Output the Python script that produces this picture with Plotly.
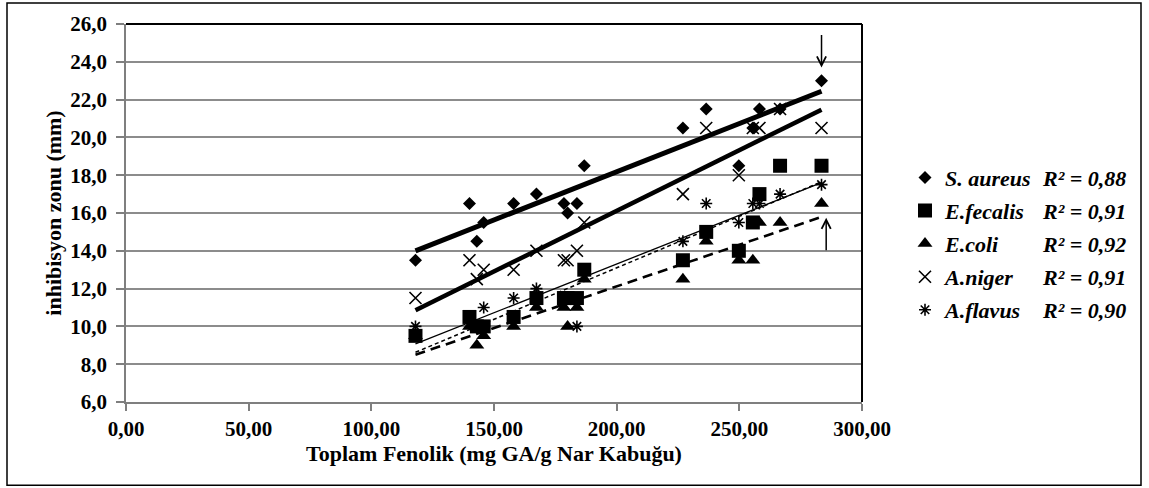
import numpy as np
import plotly.graph_objects as go

# ---------------- data ----------------
phenolic = [118.0, 140.0, 143.0, 145.8, 158.0, 167.3, 178.5, 180.0, 183.8, 186.8,
            227.0, 236.5, 249.8, 255.5, 258.2, 266.6, 283.5]
s_aureus = [13.5, 16.5, 14.5, 15.5, 16.5, 17.0, 16.5, 16.0, 16.5, 18.5,
            20.5, 21.5, 18.5, 20.5, 21.5, 21.5, 23.0]
e_fecalis = [9.5, 10.5, 10.0, 10.0, 10.5, 11.5, 11.5, 11.5, 11.5, 13.0,
             13.5, 15.0, 14.0, 15.5, 17.0, 18.5, 18.5]
e_coli = [9.5, 10.0, 9.0, 9.5, 10.0, 11.0, 11.0, 10.0, 11.0, 12.5,
          12.5, 14.5, 13.5, 13.5, 15.5, 15.5, 16.5]
a_niger = [11.5, 13.5, 12.5, 13.0, 13.0, 14.0, 13.5, 13.5, 14.0, 15.5,
           17.0, 20.5, 18.0, 20.5, 20.5, 21.5, 20.5]
a_flavus = [10.0, 10.5, 10.0, 11.0, 11.5, 12.0, 11.5, 11.5, 10.0, 13.0,
            14.5, 16.5, 15.5, 16.5, 16.5, 17.0, 17.5]

series_names = ["S. aureus", "E.fecalis", "E.coli", "A.niger", "A.flavus"]
r2_labels = ["R² = 0,88", "R² = 0,91", "R² = 0,92", "R² = 0,91", "R² = 0,90"]
x_ticks = [0, 50, 100, 150, 200, 250, 300]
y_ticks = [6, 8, 10, 12, 14, 16, 18, 20, 22, 24, 26]
x_title = "Toplam Fenolik (mg GA/g Nar Kabuğu)"
y_title = "inhibisyon zonu (mm)"

series_values = [s_aureus, e_fecalis, e_coli, a_niger, a_flavus]

# ---------------- styles ----------------
FONT = "Liberation Serif"
marker_styles = [
    dict(symbol="diamond", size=10, color="black"),
    dict(symbol="square", size=14, color="black"),
    dict(symbol="triangle-up", size=13, color="black"),
    dict(symbol="x-thin", size=12, color="black", line=dict(color="black", width=1.6)),
    dict(symbol="asterisk", size=10, color="black", line=dict(color="black", width=1.6)),
]
trend_styles = [
    dict(color="black", width=5, dash="solid"),
    dict(color="black", width=1.5, dash="4px,3px"),
    dict(color="black", width=2.6, dash="10px,6px"),
    dict(color="black", width=4.5, dash="solid"),
    dict(color="black", width=1.3, dash="solid"),
]

W, H = 1149, 488
L, R, T, B = 126, 862, 24, 401.7   # plot area in px


def px_to_paper_x(px):
    return (px - L) / (R - L)


def px_to_paper_y(py):
    return (B - py) / (B - T)


fig = go.Figure()

for i, (name, vals) in enumerate(zip(series_names, series_values)):
    fig.add_trace(go.Scatter(
        x=phenolic, y=vals, mode="markers", name=name,
        legendgroup=name, marker=marker_styles[i], showlegend=True,
    ))

for i, (name, vals) in enumerate(zip(series_names, series_values)):
    xs = np.array(phenolic)
    slope, icpt = np.polyfit(xs, np.array(vals), 1)
    xl = np.array([xs.min(), xs.max()])
    fig.add_trace(go.Scatter(
        x=xl, y=slope * xl + icpt, mode="lines", line=trend_styles[i],
        showlegend=False, legendgroup=name, hoverinfo="skip",
    ))

LEG_SIZE = 22
# R² labels next to legend rows
row0, row_step = 178.3, 33.1
annotations = []
for i, lab in enumerate(r2_labels):
    annotations.append(dict(
        text=lab, xref="paper", yref="paper",
        x=px_to_paper_x(1040), y=px_to_paper_y(row0 + i * row_step),
        xanchor="left", yanchor="middle", showarrow=False,
        font=dict(family=FONT, size=LEG_SIZE, color="black", weight="bold", style="italic"),
    ))

# arrows pointing at the highest S. aureus and E. coli values
annotations.append(dict(x=phenolic[-1], y=s_aureus[-1] + 0.7, xref="x", yref="y", text="",
                        showarrow=True, ax=0, ay=-34, arrowhead=5, arrowsize=1.2,
                        arrowwidth=1.5, arrowcolor="black"))
annotations.append(dict(x=phenolic[-1] + 1.9, y=e_coli[-1] - 0.75, xref="x", yref="y", text="",
                        showarrow=True, ax=0, ay=34, arrowhead=5, arrowsize=1.2,
                        arrowwidth=1.5, arrowcolor="black"))

shapes = [
    # top and right plot border
    dict(type="line", xref="paper", yref="paper", x0=0, x1=1, y0=1, y1=1,
         line=dict(color="black", width=2)),
    dict(type="line", xref="paper", yref="paper", x0=1, x1=1, y0=0, y1=1,
         line=dict(color="black", width=2)),
    # outer chart border
    dict(type="rect", xref="paper", yref="paper",
         x0=px_to_paper_x(7), x1=px_to_paper_x(1141),
         y0=px_to_paper_y(485), y1=px_to_paper_y(3),
         line=dict(color="black", width=1.5), fillcolor="rgba(0,0,0,0)"),
]

tick_font = dict(family=FONT, size=21, color="black", weight="bold")
title_font = dict(family=FONT, size=22, color="black", weight="bold")

fig.update_layout(
    width=W, height=H,
    margin=dict(l=L, r=W - R, t=T, b=H - B, pad=0),
    paper_bgcolor="white", plot_bgcolor="white",
    separators=",.",
    font=dict(family=FONT, color="black"),
    showlegend=True,
    legend=dict(
        x=px_to_paper_x(905), y=px_to_paper_y(156.5), xanchor="left", yanchor="top",
        font=dict(family=FONT, size=LEG_SIZE, color="black", weight="bold", style="italic"),
        itemwidth=30, tracegroupgap=1.5, bgcolor="rgba(0,0,0,0)",
    ),
    xaxis=dict(
        range=[0, 300], tickvals=x_ticks, tickformat=".2f",
        showgrid=False, zeroline=False,
        showline=True, linecolor="#7f7f7f", linewidth=1.5,
        ticks="outside", ticklen=7, tickcolor="#7f7f7f", tickwidth=1.5,
        tickfont=tick_font,
        title=dict(text=x_title, font=title_font, standoff=6),
    ),
    yaxis=dict(
        range=[6, 26], tickvals=y_ticks, tickformat=".1f",
        showgrid=True, gridcolor="#8c8c8c", gridwidth=1.5, zeroline=False,
        showline=True, linecolor="#7f7f7f", linewidth=1.5,
        ticks="outside", ticklen=8, tickcolor="#7f7f7f", tickwidth=1.5,
        ticklabelstandoff=5,
        tickfont=tick_font,
        title=dict(text=y_title, font=title_font, standoff=3),
    ),
    annotations=annotations,
    shapes=shapes,
)

fig.write_html("out.html")
